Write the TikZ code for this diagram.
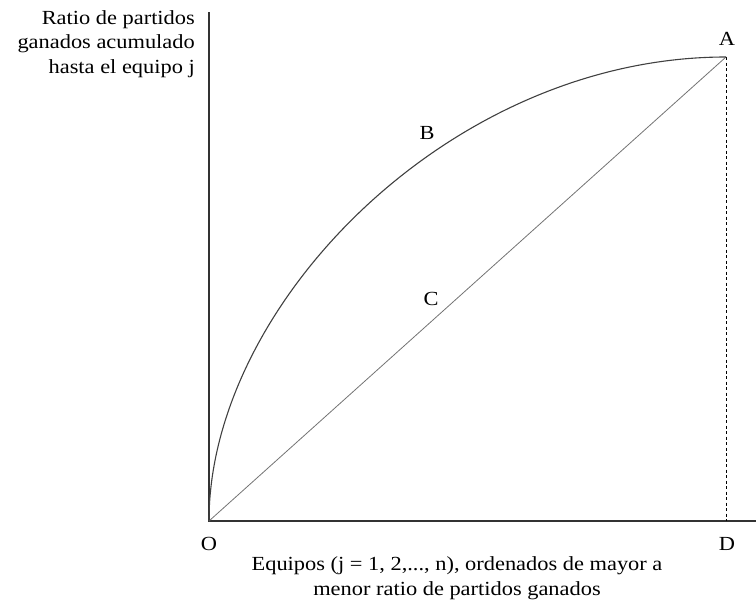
\documentclass[tikz,border=0pt]{standalone}
\usepackage{fontspec}
\setmainfont[FakeStretch=1.12]{Liberation Serif}
\begin{document}
\begin{tikzpicture}[x=1pt,y=-1pt,
  axis/.style={draw=black!80,line width=1.1pt},
  curveline/.style={draw=black!75,line width=1.1pt},
  diag/.style={draw=black!55,line width=0.8pt},
  guide/.style={draw=black,line width=0.7pt,dash pattern=on 3pt off 2.5pt},
  lbl/.style={font=\fontsize{20}{24}\selectfont,inner sep=0pt,anchor=base},
  multi/.style={font=\fontsize{20}{24.5}\selectfont,inner sep=0pt}]
\useasboundingbox (0,0) rectangle (756,603);
\coordinate (O) at (209,521);
\coordinate (A) at (726,57);
\coordinate (D) at (726,521);
\coordinate (Ytop) at (209,12);
\coordinate (Xend) at (756,521);
\draw[axis] (Ytop) -- (O) -- (Xend);
\draw[guide] (A) -- (D);
\draw[diag] (O) -- (A);
\draw[curveline] (O) .. controls (209,305) and (450,57) .. (A);
\node[lbl] (la) at (727,45) {A};
\node[lbl] (lb) at (427,139) {B};
\node[lbl] (lc) at (431,305) {C};
\node[lbl] (lo) at (209,550) {O};
\node[lbl] (ld) at (727,550) {D};
\node[multi,align=right,anchor=base east] (ylab) at (195,73) {Ratio de partidos\\ganados acumulado\\hasta el equipo j};
\node[multi,align=center,anchor=base] (xlab) at (457,595) {Equipos (j = 1, 2,..., n), ordenados de mayor a\\menor ratio de partidos ganados};
\end{tikzpicture}
\end{document}
